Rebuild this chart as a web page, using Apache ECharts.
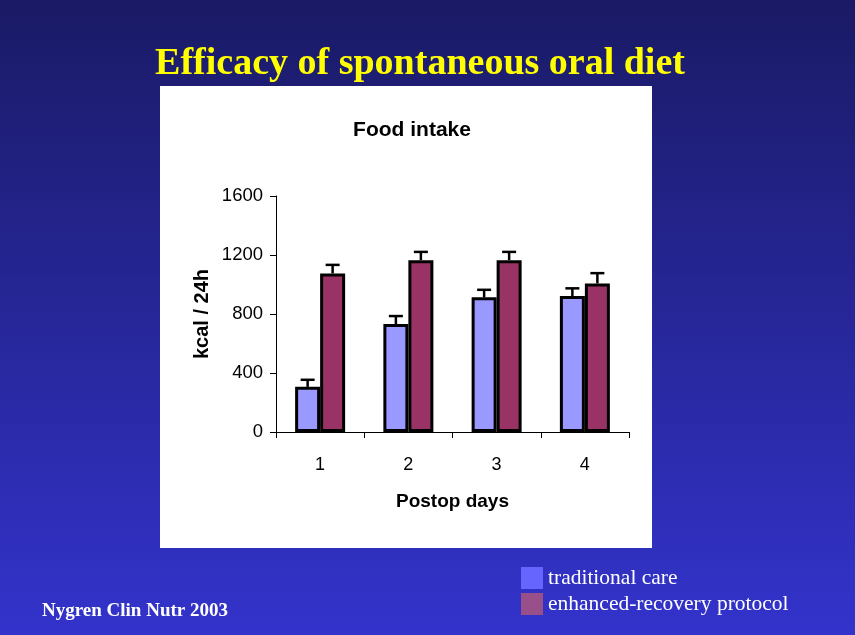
<!DOCTYPE html>
<html><head><meta charset="utf-8">
<script src="https://cdn.jsdelivr.net/npm/echarts@6/dist/echarts.min.js"></script>
<style>html,body{margin:0;padding:0;}#c{width:855px;height:635px;}</style>
</head><body><div id="c"></div>
<script>
const categories = ['1', '2', '3', '4'];
const traditional = [306, 732, 913, 922];
const traditionalErr = [48, 54, 51, 52];
const enhanced = [1075, 1165, 1165, 1007];
const enhancedErr = [58, 56, 56, 70];
const yTicks = [0, 400, 800, 1200, 1600];

const chart = echarts.init(document.getElementById('c'));
const BW = 25;
function errSeries(vals, errs, side) {
  return {
    type: 'custom', z: 1, silent: true,
    data: vals.map((v, i) => [i, v, v + errs[i]]),
    renderItem: function (params, api) {
      const base = api.coord([api.value(0), api.value(1)]);
      const top = api.coord([api.value(0), api.value(2)]);
      const x = base[0] + side * BW / 2;
      const style = { stroke: '#000', lineWidth: 2.5 };
      return { type: 'group', children: [
        { type: 'line', shape: { x1: x, y1: base[1], x2: x, y2: top[1] }, style },
        { type: 'line', shape: { x1: x - 7, y1: top[1], x2: x + 7, y2: top[1] }, style }
      ]};
    }
  };
}
chart.setOption({
  backgroundColor: new echarts.graphic.LinearGradient(0, 0, 0, 1, [
    { offset: 0, color: '#1a1a66' }, { offset: 1, color: '#3333cc' }
  ]),
  graphic: [
    { type: 'rect', z: -10, shape: { x: 160, y: 86, width: 492, height: 462 }, style: { fill: '#ffffff' } }
  ],
  title: [
    { text: 'Efficacy of spontaneous oral diet', left: 415, textAlign: 'center', top: 40,
      textStyle: { fontFamily: 'Liberation Serif', fontWeight: 'bold', fontSize: 38, color: '#ffff00',
        textShadowColor: '#000', textShadowOffsetX: 2, textShadowOffsetY: 2, textShadowBlur: 0 } },
    { text: 'Food intake', left: 407, textAlign: 'center', top: 115,
      textStyle: { fontFamily: 'Liberation Sans', fontWeight: 'bold', fontSize: 21, color: '#000' } },
    { text: 'Nygren Clin Nutr 2003', left: 37, top: 597,
      textStyle: { fontFamily: 'Liberation Serif', fontWeight: 'bold', fontSize: 19, color: '#ffffff' } }
  ],
  legend: {
    orient: 'vertical', left: 516, top: 562, itemWidth: 22, itemHeight: 22, itemGap: 4,
    icon: 'rect',
    textStyle: { fontFamily: 'Liberation Serif', fontSize: 21.5, color: '#ffffff' },
    data: [
      { name: 'traditional care', itemStyle: { color: '#6666ff', borderWidth: 0 } },
      { name: 'enhanced-recovery protocol', itemStyle: { color: '#99508a', borderWidth: 0 } }
    ]
  },
  grid: { left: 276, right: 226, top: 196, bottom: 203 },
  xAxis: {
    type: 'category', data: categories,
    name: 'Postop days', nameLocation: 'middle', nameGap: 60,
    nameTextStyle: { fontFamily: 'Liberation Sans', fontWeight: 'bold', fontSize: 19, color: '#000' },
    axisLine: { lineStyle: { color: '#000', width: 1 } },
    axisTick: { show: true, length: 6, lineStyle: { color: '#000' } },
    axisLabel: { fontFamily: 'Liberation Sans', fontSize: 18, color: '#000', margin: 24 }
  },
  yAxis: {
    type: 'value', min: yTicks[0], max: yTicks[yTicks.length - 1], interval: 400,
    name: 'kcal / 24h', nameLocation: 'middle', nameGap: 64,
    nameTextStyle: { fontFamily: 'Liberation Sans', fontWeight: 'bold', fontSize: 20, color: '#000' },
    axisLine: { show: true, lineStyle: { color: '#000', width: 1 } },
    axisTick: { show: true, length: 6, lineStyle: { color: '#000' } },
    axisLabel: { fontFamily: 'Liberation Sans', fontSize: 18.5, color: '#000', margin: 13,
      formatter: function (v) { return String(v); } },
    splitLine: { show: false }
  },
  series: [
    { name: 'traditional care', type: 'bar', data: traditional, barWidth: BW, barGap: '0%', z: 2,
      itemStyle: { color: '#9999ff', borderColor: '#000', borderWidth: 3 } },
    { name: 'enhanced-recovery protocol', type: 'bar', data: enhanced, barWidth: BW, barGap: '0%', z: 2,
      itemStyle: { color: '#993366', borderColor: '#000', borderWidth: 3 } },
    errSeries(traditional, traditionalErr, -1),
    errSeries(enhanced, enhancedErr, 1)
  ]
});
</script></body></html>
